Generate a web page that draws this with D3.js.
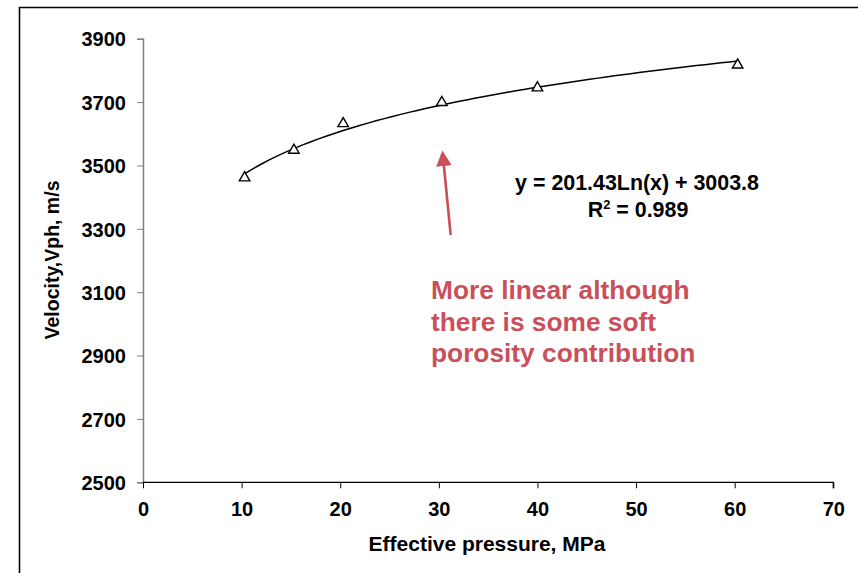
<!DOCTYPE html>
<html>
<head>
<meta charset="utf-8">
<script src="https://cdn.jsdelivr.net/npm/d3@7"></script>
<style>
  body { margin: 0; background: #fff; }
  svg { display: block; font-family: Arial, "Liberation Sans", sans-serif; }
</style>
</head>
<body>
<div class="chart"></div>
<script>
var pressure = [10.3, 15.3, 20.3, 30.3, 40.0, 60.3];
var velocity = [3461, 3548, 3632, 3699, 3745, 3817];
// log trendline y = a*ln(x) + b, as printed on the chart
var trendCoef = [201.43, 3003.8];
var xTicks = [0, 10, 20, 30, 40, 50, 60, 70];
var yTicks = [2500, 2700, 2900, 3100, 3300, 3500, 3700, 3900];
var noteLines = ["More linear although", "there is some soft", "porosity contribution"];

var width = 858, height = 573;
var font = "Arial, 'Liberation Sans', sans-serif";
var svg = d3.select(".chart").append("svg")
  .attr("width", width)
  .attr("height", height);

// outer frame (runs off the right and bottom edges)
svg.append("path")
  .attr("d", "M19.5," + (height + 2) + "V7.5H" + (width + 2))
  .attr("fill", "none")
  .attr("stroke", "#000")
  .attr("stroke-width", 1.6);

var x = d3.scaleLinear().domain([0, 70]).range([143, 833.3]);
var y = d3.scaleLinear().domain([2500, 3900]).range([482.3, 38.7]);

// y axis (grey)
var yAxis = svg.append("g")
  .attr("transform", "translate(" + x(0) + ",0)")
  .call(d3.axisLeft(y).tickValues(yTicks).tickSize(6).tickPadding(11).tickFormat(d3.format("d")));
yAxis.select(".domain").attr("stroke", "#808080").attr("stroke-width", 1.5);
yAxis.selectAll(".tick line").attr("stroke", "#808080");
yAxis.selectAll("text")
  .attr("font-size", 20).attr("font-weight", "bold").attr("fill", "#000")
  .attr("font-family", font)
  .attr("dy", "0.36em");

// x axis
var xAxis = svg.append("g")
  .attr("transform", "translate(0," + y(2500) + ")")
  .call(d3.axisBottom(x).tickValues(xTicks).tickSize(6).tickPadding(14).tickFormat(d3.format("d")));
xAxis.select(".domain").attr("stroke", "#000").attr("stroke-width", 1.3)
  .attr("d", "M" + x(0) + ",0H" + x(70) + "V6");
xAxis.selectAll(".tick line").attr("stroke", "#000");
xAxis.selectAll("text")
  .attr("font-size", 20).attr("font-weight", "bold").attr("fill", "#000")
  .attr("font-family", font);

// axis titles
svg.append("text")
  .attr("x", 487).attr("y", 551)
  .attr("text-anchor", "middle")
  .attr("font-size", 21).attr("font-weight", "bold")
  .text("Effective pressure, MPa");

svg.append("text")
  .attr("transform", "translate(59,260) rotate(-90)")
  .attr("text-anchor", "middle")
  .attr("font-size", 19.5).attr("font-weight", "bold")
  .text("Velocity,Vph, m/s");

// trendline across the data range
var xMin = d3.min(pressure), xMax = d3.max(pressure);
var trendX = d3.range(0, 61).map(function(i) { return xMin + (xMax - xMin) * i / 60; });
var line = d3.line()
  .x(function(d) { return x(d); })
  .y(function(d) { return y(trendCoef[0] * Math.log(d) + trendCoef[1]); });
svg.append("path")
  .datum(trendX)
  .attr("d", line)
  .attr("fill", "none")
  .attr("stroke", "#000")
  .attr("stroke-width", 1.5);

// triangle markers
var tri = d3.symbol().type(d3.symbolTriangle).size(48);
svg.selectAll(".pt")
  .data(pressure)
  .enter().append("path")
  .attr("class", "pt")
  .attr("d", tri)
  .attr("transform", function(d, i) { return "translate(" + x(d) + "," + y(velocity[i]) + ")"; })
  .attr("fill", "#fff")
  .attr("stroke", "#000")
  .attr("stroke-width", 1.4);

// trendline equation
svg.append("text")
  .attr("x", 637).attr("y", 190)
  .attr("text-anchor", "middle")
  .attr("font-size", 21.4).attr("font-weight", "bold")
  .text("y = 201.43Ln(x) + 3003.8");
var r2 = svg.append("text")
  .attr("x", 638).attr("y", 217)
  .attr("text-anchor", "middle")
  .attr("font-size", 21.4).attr("font-weight", "bold");
r2.append("tspan").text("R");
r2.append("tspan").attr("dy", -8).attr("font-size", 13).text("2");
r2.append("tspan").attr("dy", 8).text(" = 0.989");

// red arrow
var red = "#c9505a";
var defs = svg.append("defs");
defs.append("marker")
  .attr("id", "head")
  .attr("viewBox", "0 0 10 10")
  .attr("refX", 2).attr("refY", 5)
  .attr("markerWidth", 6).attr("markerHeight", 6)
  .attr("markerUnits", "strokeWidth")
  .attr("orient", "auto")
  .append("path")
  .attr("d", "M0,0L10,5L0,10z")
  .attr("fill", red);
svg.append("line")
  .attr("x1", 450.7).attr("y1", 235)
  .attr("x2", 443.6).attr("y2", 163)
  .attr("stroke", red)
  .attr("stroke-width", 2.6)
  .attr("marker-end", "url(#head)");

// red note
svg.append("g").selectAll("text")
  .data(noteLines)
  .enter().append("text")
  .attr("x", 431)
  .attr("y", function(d, i) { return 299 + i * 31.7; })
  .attr("font-size", 26.3).attr("font-weight", "bold")
  .attr("fill", red)
  .text(function(d) { return d; });
</script>
</body>
</html>
